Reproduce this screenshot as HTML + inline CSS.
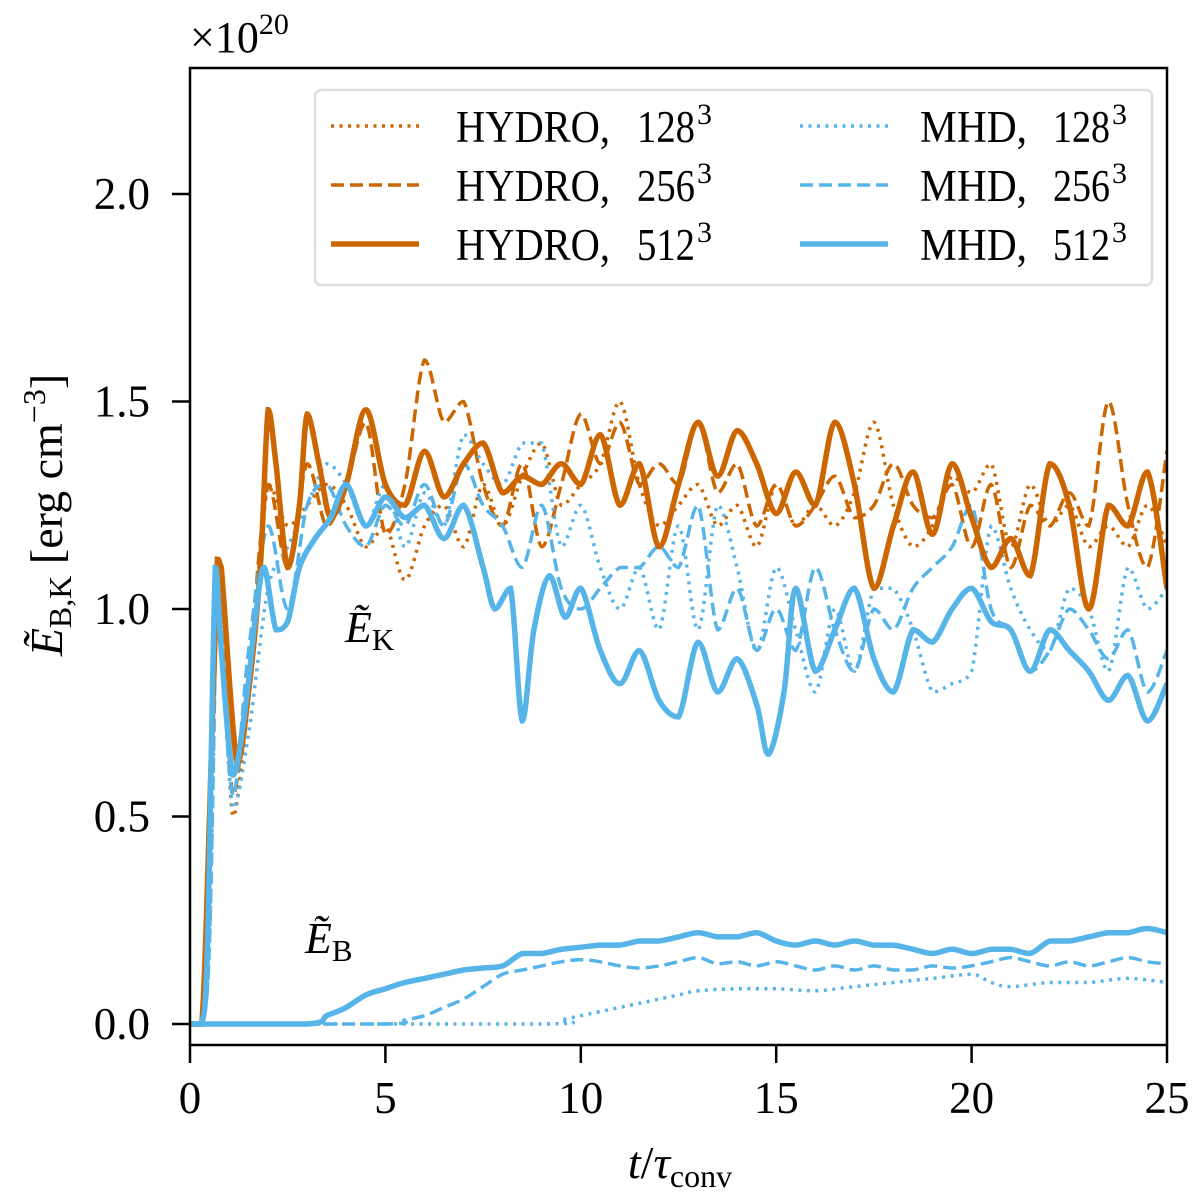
<!DOCTYPE html>
<html><head><meta charset="utf-8"><style>
body{margin:0;background:#fff;}
svg{display:block;font-family:"Liberation Serif",serif;}
</style></head><body>
<svg id="chart" width="1200" height="1192" viewBox="0 0 1200 1192">
<g id="marks"></g>
<rect x="190" y="68" width="977" height="977" fill="none" stroke="#000" stroke-width="2.5"/>
<g id="axes"></g>
<text x="190" y="52" font-size="44">×10<tspan dy="-18" font-size="30">20</tspan></text>
<text transform="translate(62,515) rotate(-90)" text-anchor="middle" font-size="46"><tspan font-style="italic">Ẽ</tspan><tspan font-size="32" dy="9">B,K</tspan><tspan dy="-9"> [erg cm</tspan><tspan font-size="32" dy="-17">−3</tspan><tspan dy="17">]</tspan></text>
<text x="680" y="1178" text-anchor="middle" font-size="46"><tspan font-style="italic">t</tspan>/<tspan font-style="italic">τ</tspan><tspan font-size="32" dy="9">conv</tspan></text>
<text x="345" y="642" font-size="44"><tspan font-style="italic">Ẽ</tspan><tspan font-size="31" dy="8">K</tspan></text>
<text x="305" y="953" font-size="44"><tspan font-style="italic">Ẽ</tspan><tspan font-size="31" dy="8">B</tspan></text>
<g>
<rect x="315" y="90" width="837" height="195" rx="6" fill="#fff" fill-opacity="0.85" stroke="#ddd" stroke-width="2.5"/>
<g id="legend-items"></g>
</g>
</svg>
<script>
const ORANGE="#CC6600", BLUE="#56B4E9";
const xTicks=[0,5,10,15,20,25];
const yTicks=[0.0,0.5,1.0,1.5,2.0];
const yTickLabels=["0.0","0.5","1.0","1.5","2.0"];
const tH512=[0,0.3,0.5,0.7,0.8,1.2,1.5,1.8,2.0,2.2,2.5,2.8,3.0,3.3,3.6,4.0,4.5,5,5.5,6,6.5,7,7.5,8,8.5,9,9.5,10,10.5,11,11.5,12,12.5,13,13.5,14,14.5,15,15.5,16,16.5,17,17.5,18,18.5,19,19.5,20,20.5,21,21.5,22,22.5,23,23.5,24,24.5,25];
const vH512=[0,0,0.5,1.12,1.1,0.63,0.8,1.1,1.48,1.35,1.1,1.25,1.47,1.35,1.22,1.3,1.48,1.3,1.25,1.38,1.27,1.35,1.4,1.28,1.32,1.3,1.35,1.3,1.42,1.25,1.35,1.15,1.3,1.45,1.32,1.43,1.35,1.23,1.33,1.25,1.45,1.3,1.05,1.2,1.33,1.18,1.35,1.22,1.1,1.17,1.08,1.35,1.25,1.0,1.25,1.2,1.33,1.05];
const tM512=[0,0.3,0.45,0.65,0.8,1.1,1.4,1.7,1.9,2.2,2.5,2.8,3.2,3.6,4.0,4.5,5,5.5,6,6.5,7,7.5,7.8,8.2,8.5,8.8,9.2,9.6,10,10.5,11,11.5,12,12.5,13,13.5,14,14.5,14.8,15.2,15.5,16,16.5,17,17.5,18,18.5,19,19.5,20,20.5,21,21.5,22,22.5,23,23.5,24,24.5,25];
const vM512=[0,0,0.2,1.1,0.9,0.6,0.75,1.0,1.1,0.95,0.97,1.1,1.17,1.22,1.3,1.2,1.27,1.22,1.25,1.17,1.25,1.1,1.0,1.05,0.73,0.95,1.08,0.98,1.05,0.9,0.82,0.9,0.78,0.74,0.92,0.8,0.88,0.77,0.65,0.8,1.05,0.85,0.95,1.05,0.88,0.8,0.95,0.92,1.0,1.05,0.97,0.95,0.85,0.95,0.9,0.85,0.78,0.84,0.73,0.82];
const tHalf=[0,0.3,0.5,0.7,0.8,1.1,1.5,2,2.5,3,3.5,4,4.5,5,5.5,6,6.5,7,7.5,8,8.5,9,9.5,10,10.5,11,11.5,12,12.5,13,13.5,14,14.5,15,15.5,16,16.5,17,17.5,18,18.5,19,19.5,20,20.5,21,21.5,22,22.5,23,23.5,24,24.5,25];
const vH256=[0,0,0.5,1.1,1.05,0.55,0.85,1.3,1.1,1.35,1.2,1.3,1.45,1.18,1.3,1.6,1.45,1.5,1.3,1.2,1.35,1.15,1.3,1.47,1.35,1.45,1.3,1.35,1.3,1.45,1.28,1.35,1.2,1.3,1.2,1.25,1.32,1.22,1.25,1.35,1.25,1.22,1.3,1.15,1.3,1.1,1.25,1.2,1.28,1.2,1.5,1.25,1.1,1.38];
const vH128=[0,0,0.5,1.1,1.05,0.5,0.8,1.3,1.2,1.25,1.3,1.25,1.15,1.2,1.07,1.2,1.25,1.15,1.3,1.2,1.32,1.4,1.25,1.3,1.35,1.5,1.3,1.2,1.25,1.3,1.2,1.25,1.15,1.3,1.2,1.25,1.2,1.28,1.45,1.25,1.15,1.2,1.32,1.28,1.35,1.15,1.3,1.2,1.25,1.15,1.2,1.15,1.25,1.15];
const vM256=[0,0,0.2,1.1,0.95,0.55,0.9,1.2,1.0,1.25,1.3,1.2,1.15,1.25,1.2,1.3,1.2,1.35,1.25,1.2,1.1,1.25,1.05,1.0,1.05,1.1,1.1,1.15,1.1,1.25,0.95,1.05,0.9,1.0,0.9,1.1,0.95,0.85,1.0,0.95,1.05,1.1,1.15,1.25,1.0,0.95,0.85,0.9,1.0,0.95,0.88,0.95,0.8,0.9];
const vM128=[0,0,0.2,1.1,0.95,0.52,0.7,1.05,1.15,1.25,1.35,1.3,1.2,1.3,1.15,1.28,1.2,1.42,1.35,1.3,1.4,1.4,1.15,1.25,1.1,1.0,1.1,0.95,1.2,0.95,1.25,1.1,0.9,1.1,0.95,0.8,1.0,0.85,1.05,1.05,0.95,0.8,0.82,0.85,1.2,1.05,0.95,0.9,1.05,1.0,0.85,1.1,1.0,1.05];
const tB512=[0,3,3.5,4,4.5,5,5.5,6,6.5,7,7.5,8,8.5,9,9.5,10,10.5,11,11.5,12,12.5,13,13.5,14,14.5,15,15.5,16,16.5,17,17.5,18,18.5,19,19.5,20,20.5,21,21.5,22,22.5,23,23.5,24,24.5,25];
const vB512=[0,0,0.02,0.04,0.07,0.085,0.1,0.11,0.12,0.13,0.135,0.14,0.17,0.17,0.18,0.185,0.19,0.19,0.2,0.2,0.21,0.22,0.21,0.21,0.22,0.2,0.19,0.2,0.19,0.2,0.19,0.19,0.18,0.17,0.18,0.17,0.18,0.18,0.17,0.2,0.2,0.21,0.22,0.22,0.23,0.22];
const tB256=[0,5,5.5,6,6.5,7,7.5,8,8.5,9,9.5,10,10.5,11,11.5,12,12.5,13,13.5,14,14.5,15,15.5,16,16.5,17,17.5,18,18.5,19,19.5,20,20.5,21,21.5,22,22.5,23,23.5,24,24.5,25];
const vB256=[0,0,0.01,0.02,0.04,0.06,0.09,0.12,0.13,0.14,0.15,0.155,0.15,0.14,0.135,0.14,0.15,0.16,0.145,0.15,0.14,0.15,0.14,0.13,0.14,0.13,0.14,0.13,0.13,0.14,0.135,0.14,0.15,0.16,0.15,0.14,0.15,0.14,0.15,0.16,0.15,0.145];
const tB128=[0,9,9.5,10,10.5,11,11.5,12,12.5,13,14,15,16,17,18,19,20,20.5,21,22,23,24,25];
const vB128=[0,0,0.01,0.02,0.03,0.04,0.05,0.06,0.07,0.08,0.085,0.085,0.08,0.09,0.1,0.11,0.12,0.1,0.09,0.1,0.1,0.11,0.1];

const X=t=>190+t*977/25;
const Y=v=>1024-v*415;
const NS="http://www.w3.org/2000/svg";
const marks=document.getElementById('marks'), axes=document.getElementById('axes');
function clampv(y,a,b){const lo=Math.min(a,b),hi=Math.max(a,b);return Math.max(lo,Math.min(hi,y));}
function path(ts,vs){
  const p=ts.map((t,i)=>[X(t),Y(vs[i])]);
  let d="M"+p[0][0].toFixed(1)+","+p[0][1].toFixed(1);
  for(let i=0;i<p.length-1;i++){
    const p0=p[Math.max(i-1,0)],p1=p[i],p2=p[i+1],p3=p[Math.min(i+2,p.length-1)];
    const c1=[p1[0]+(p2[0]-p0[0])/6,clampv(p1[1]+(p2[1]-p0[1])/6,p1[1],p2[1])];
    const c2=[p2[0]-(p3[0]-p1[0])/6,clampv(p2[1]-(p3[1]-p1[1])/6,p1[1],p2[1])];
    d+="C"+c1.map(n=>n.toFixed(1))+" "+c2.map(n=>n.toFixed(1))+" "+p2.map(n=>n.toFixed(1));
  }
  return d;
}
const styles={dot:["3.5","3,5.5"],dash:["3.5","13,6"],solid:["5.5",""]};
function draw(name,ts,vs,color,st){
  const el=document.createElementNS(NS,'path');
  el.setAttribute('d',path(ts,vs));
  el.setAttribute('fill','none');el.setAttribute('stroke',color);
  el.setAttribute('stroke-width',styles[st][0]);
  if(styles[st][1])el.setAttribute('stroke-dasharray',styles[st][1]);
  
  
  marks.appendChild(el);
}
const clip=document.createElementNS(NS,'clipPath');clip.id='c';
const cr=document.createElementNS(NS,'rect');cr.setAttribute('x',190);cr.setAttribute('y',68);cr.setAttribute('width',977);cr.setAttribute('height',977);
clip.appendChild(cr);document.getElementById('chart').appendChild(clip);
marks.setAttribute('clip-path','url(#c)');
draw('hydro-128-line',tHalf,vH128,ORANGE,'dot');
draw('hydro-256-line',tHalf,vH256,ORANGE,'dash');
draw('mhd-128-line',tHalf,vM128,BLUE,'dot');
draw('mhd-256-line',tHalf,vM256,BLUE,'dash');
draw('hydro-512-line',tH512,vH512,ORANGE,'solid');
draw('mhd-512-line',tM512,vM512,BLUE,'solid');
draw('eb-128-line',tB128,vB128,BLUE,'dot');
draw('eb-256-line',tB256,vB256,BLUE,'dash');
draw('eb-512-line',tB512,vB512,BLUE,'solid');
xTicks.forEach(t=>{
  const l=document.createElementNS(NS,'line');
  l.setAttribute('x1',X(t));l.setAttribute('x2',X(t));l.setAttribute('y1',1045);l.setAttribute('y2',1063);
  l.setAttribute('stroke','#000');l.setAttribute('stroke-width','2.5');
  
  
  axes.appendChild(l);
  const tx=document.createElementNS(NS,'text');
  tx.setAttribute('x',X(t));tx.setAttribute('y',1113);tx.setAttribute('text-anchor','middle');tx.setAttribute('font-size','45');
  tx.textContent=t;
  
  
  axes.appendChild(tx);
});
yTicks.forEach((v,i)=>{
  const l=document.createElementNS(NS,'line');
  l.setAttribute('x1',172);l.setAttribute('x2',190);l.setAttribute('y1',Y(v));l.setAttribute('y2',Y(v));
  l.setAttribute('stroke','#000');l.setAttribute('stroke-width','2.5');
  
  
  axes.appendChild(l);
  const tx=document.createElementNS(NS,'text');
  tx.setAttribute('x',150);tx.setAttribute('y',Y(v)+15);tx.setAttribute('text-anchor','end');tx.setAttribute('font-size','45');
  tx.textContent=yTickLabels[i];
  
  
  axes.appendChild(tx);
});
// [name, number, color, style, lineX, nameX, nameLen, numX, numLen, y]
const legendLabels=[["HYDRO,","128",ORANGE,'dot',331,456,154,637,58,126],["HYDRO,","256",ORANGE,'dash',331,456,154,637,58,185],["HYDRO,","512",ORANGE,'solid',331,456,154,637,58,244],
["MHD,","128",BLUE,'dot',800,920,107,1053,57,126],["MHD,","256",BLUE,'dash',800,920,107,1053,57,185],["MHD,","512",BLUE,'solid',800,920,107,1053,57,244]];
const lg=document.getElementById('legend-items');
legendLabels.forEach(e=>{
  const y=e[9];
  const l=document.createElementNS(NS,'line');
  l.setAttribute('x1',e[4]);l.setAttribute('x2',e[4]+88);l.setAttribute('y1',y);l.setAttribute('y2',y);
  l.setAttribute('stroke',e[2]);l.setAttribute('stroke-width',styles[e[3]][0]);
  if(styles[e[3]][1])l.setAttribute('stroke-dasharray',styles[e[3]][1]);
  
  
  lg.appendChild(l);
  const tx=document.createElementNS(NS,'text');
  tx.setAttribute('y',y+16);tx.setAttribute('font-size','45');
  tx.innerHTML='<tspan x="'+e[5]+'" textLength="'+e[6]+'" lengthAdjust="spacingAndGlyphs">'+e[0]+'</tspan><tspan x="'+e[7]+'" textLength="'+e[8]+'" lengthAdjust="spacingAndGlyphs">'+e[1]+'</tspan><tspan x="'+(e[7]+e[8]+2)+'" dy="-18" font-size="30">3</tspan>';
  
  
  lg.appendChild(tx);
});
</script>
</body></html>
